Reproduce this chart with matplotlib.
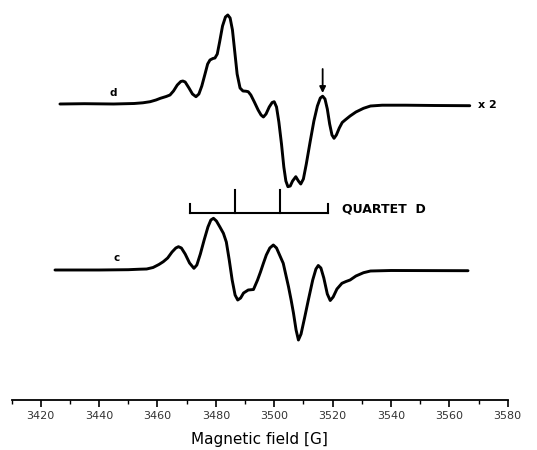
import matplotlib
matplotlib.use("Agg")
import matplotlib.pyplot as plt
from matplotlib.ticker import MultipleLocator

plt.rcParams['font.family'] = ['DejaVu Sans']

# ---- data (field in G, intensity in arbitrary units) ----
field_d = [3426.6, 3435, 3445, 3452, 3455, 3457.5, 3459.5, 3461, 3463, 3464.3, 3465.5, 3466.8,
           3468, 3468.7, 3469.5, 3470.8, 3472, 3473.2, 3474.2, 3475.2, 3476.3, 3477.2, 3478.0,
           3479, 3479.7, 3480.5, 3481.3, 3482.3, 3483.3, 3484.1, 3484.9, 3485.7, 3486.5, 3487.3,
           3488.3, 3489.3, 3490.3, 3491.1, 3492, 3493.2, 3494.5, 3495.5, 3496.3, 3497.2, 3498.3,
           3499.3, 3500.0, 3500.8, 3501.6, 3502.5, 3503.3, 3504, 3504.7, 3505.5, 3506.3, 3507.4,
           3508.3, 3509.1, 3510, 3511, 3512.3, 3513.6, 3514.8, 3515.8, 3516.6, 3517.4, 3518.2,
           3519, 3519.8, 3520.5, 3521.3, 3522.3, 3523.3, 3524.3, 3526, 3528, 3530.6, 3533, 3537,
           3545, 3555, 3567]
signal_d = [0, 0.3, 0, 0.5, 1.2, 2.3, 4, 5.7, 7.5, 9, 13, 19,
            22.5, 23, 22, 16, 10, 7.3, 10, 18, 30, 40, 44,
            45.5, 46, 50, 62, 78, 87, 89, 86, 74, 52, 30,
            16, 13, 12.8, 12.3, 9, 2, -6, -11, -13, -10, -3,
            1.5, 2.3, -3, -18, -40, -63, -77, -82.7, -82, -77, -72.7,
            -77, -80, -75, -60, -38, -17, -2, 6, 7.8, 5, -5,
            -20, -31, -34.3, -31, -24, -18.5, -16, -12, -8, -4.3, -2, -1.2,
            -1.2, -1.5, -1.7]

field_c = [3424.9, 3440, 3450, 3454, 3456.3, 3458.5, 3460.5, 3462, 3463.5, 3465, 3466.3, 3467.2,
           3468.2, 3469.5, 3471, 3472.5, 3473.5, 3474.7, 3476, 3477.3, 3478.3, 3479.2, 3480.2,
           3481.4, 3482.6, 3483.6, 3484.6, 3485.6, 3486.6, 3487.5, 3488.5, 3489.5, 3491.1,
           3492.9, 3494.3, 3495.3, 3496.3, 3497.3, 3498.5, 3499.7, 3500.8, 3502, 3503.1, 3504,
           3504.9, 3505.8, 3506.6, 3507.5, 3508.3, 3509.2, 3510.4, 3511.7, 3513.2, 3514.3,
           3515.1, 3516, 3517, 3518.2, 3519.2, 3520.2, 3521.5, 3523.2, 3524.6, 3526, 3528,
           3530.6, 3533, 3540, 3566.4]
signal_c = [0, 0, 0.3, 0.8, 1, 2.5, 5.5, 8.3, 12, 18, 22, 23.3,
            22, 16, 7, 1.7, 5, 16, 30, 43, 50, 51.7, 49,
            43, 36.7, 28, 10, -10, -25, -30, -28, -23, -20,
            -19.5, -10, -2, 6.7, 15, 22, 25, 22, 14, 6.7, -5,
            -16.7, -30, -43, -60, -70, -64, -48, -30, -10, 1,
            4.5, 2, -8, -24, -30.5, -27, -19, -13.3, -11.5, -10, -6,
            -2.7, -1, -0.5, -0.7]

offset_d = 296
offset_c = 130
quartet_lines = [3471.0, 3486.5, 3502.0, 3518.5]
arrow_field = 3516.6
x_ticks = list(range(3420, 3581, 20))

# ---- figure ----
fig = plt.figure(figsize=(5.37, 4.5), dpi=100)
ax = fig.add_axes([11.5 / 537, 50 / 450, 496.2 / 537, 400 / 450])
ax.set_xlim(3410, 3580)
ax.set_ylim(0, 400)

ax.plot(field_d, [offset_d + v for v in signal_d], color='black', lw=2.1,
        solid_joinstyle='round', solid_capstyle='round')
ax.plot(field_c, [offset_c + v for v in signal_c], color='black', lw=2.1,
        solid_joinstyle='round', solid_capstyle='round')

# quartet stick diagram
qy = 187
ax.plot([quartet_lines[0], quartet_lines[-1]], [qy, qy], color='black', lw=1.5)
for i, q in enumerate(quartet_lines):
    top = qy + (23 if 0 < i < len(quartet_lines) - 1 else 9)
    ax.plot([q, q], [qy, top], color='black', lw=1.5)
ax.text(3523.4, 191, 'QUARTET  D', fontsize=9, fontweight='bold', va='center', ha='left')

# arrow on d
ax.annotate('', xy=(arrow_field, 307), xytext=(arrow_field, 331),
            arrowprops=dict(arrowstyle='-|>', color='black', lw=1.3, mutation_scale=9,
                            shrinkA=0, shrinkB=0))

ax.text(3444.8, 307, 'd', fontsize=7.5, fontweight='bold', ha='center', va='center')
ax.text(3446, 141.7, 'c', fontsize=7.5, fontweight='bold', ha='center', va='center')
ax.text(3569.9, 295, 'x 2', fontsize=8, fontweight='bold', ha='left', va='center')

# axes styling
for s in ['left', 'right', 'top']:
    ax.spines[s].set_visible(False)
ax.spines['bottom'].set_linewidth(1.3)
ax.set_yticks([])
ax.set_xticks(x_ticks)
ax.xaxis.set_minor_locator(MultipleLocator(10))
ax.tick_params(axis='x', which='major', direction='out', length=5, width=1.2,
               labelsize=8, pad=3, labelcolor='#333333')
ax.tick_params(axis='x', which='minor', direction='out', length=3, width=1.0)
ax.set_xlabel('Magnetic field [G]', fontsize=11, labelpad=8)

fig.savefig('out.png', dpi=100)
